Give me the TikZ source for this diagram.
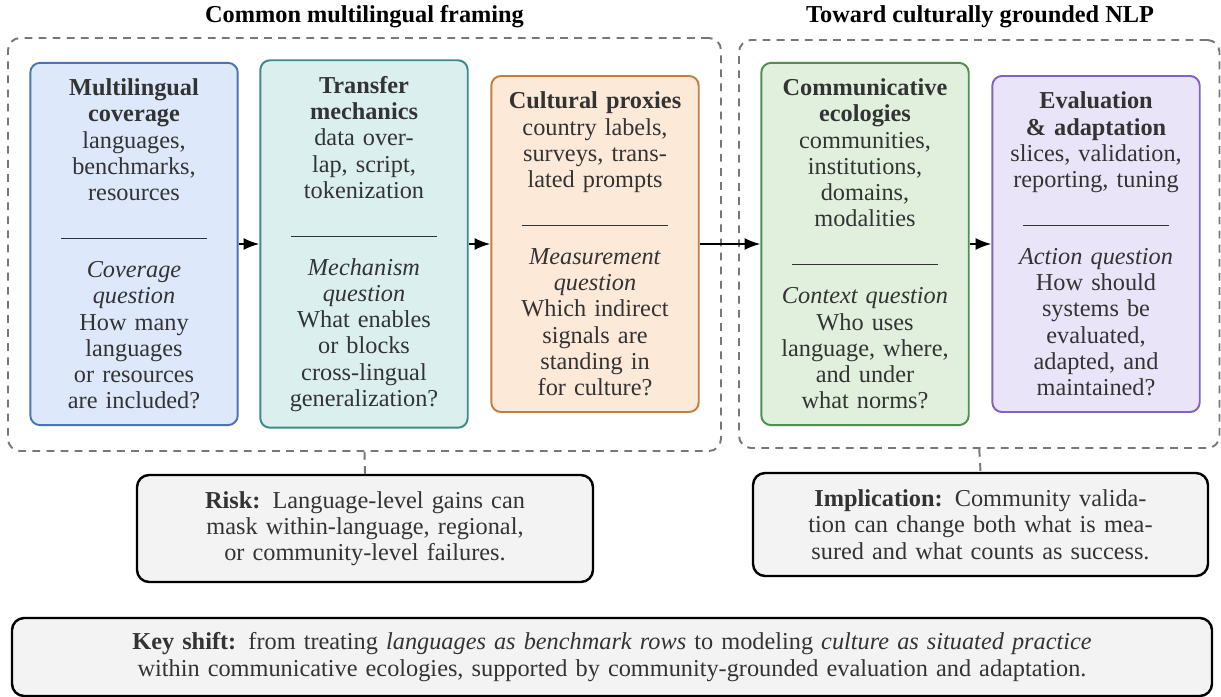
\documentclass[tikz,border=0pt]{standalone}
\usepackage{fontspec}
\setmainfont{Liberation Serif}
\usetikzlibrary{arrows.meta,fit}
\definecolor{bluefill}{HTML}{DDE8FB}
\definecolor{blueline}{HTML}{4A74BA}
\definecolor{tealfill}{HTML}{DBEFEF}
\definecolor{tealline}{HTML}{3E8A86}
\definecolor{orangefill}{HTML}{FCE9D8}
\definecolor{orangeline}{HTML}{C17F45}
\definecolor{greenfill}{HTML}{E0F0DD}
\definecolor{greenline}{HTML}{4F8F4F}
\definecolor{purplefill}{HTML}{EAE4F8}
\definecolor{purpleline}{HTML}{8163BF}
\definecolor{notefill}{HTML}{F3F3F3}
\definecolor{dashgray}{HTML}{777777}
\definecolor{textgray}{HTML}{333333}
\begin{document}
\begin{tikzpicture}[x=0.4115pt,y=-0.4115pt,
  stagebox/.style={draw, rounded corners=4pt, line width=0.8pt, align=center,
    text width=2.6cm, minimum width=3cm, inner xsep=4pt, inner ysep=6.6pt,
    font=\fontsize{10}{10.8}\selectfont, text=textgray},
  groupbox/.style={draw=dashgray, line width=0.8pt, dash pattern=on 3.2pt off 2.6pt,
    rounded corners=5pt, inner sep=0pt},
  titletext/.style={font=\fontsize{10}{10.8}\selectfont\bfseries, text=black},
  notebox/.style={draw=black, fill=notefill, line width=1pt, rounded corners=5pt,
    align=center, text width=#1, font=\fontsize{10}{10.8}\selectfont, text=textgray,
    inner sep=0pt},
  flow/.style={-{Latex[length=6.5pt,width=5pt]}, line width=0.8pt, black},
  dashlink/.style={draw=dashgray, line width=0.8pt, dash pattern=on 3.2pt off 2.6pt}
]
\useasboundingbox (0,0) rectangle (1221,697);

% titles
\node[titletext] (t1) at (364.5,17) {Common multilingual framing};
\node[titletext] (t2) at (980,17) {Toward culturally grounded NLP};

% stage boxes
\node[stagebox, fill=bluefill, draw=blueline] (b1) at (134,244)
 {\textbf{Multilingual}\\\textbf{coverage}\\languages,\\benchmarks,\\resources\\[5pt]
  \rule{2.1cm}{0.5pt}\\[5pt]
  \textit{Coverage}\\\textit{question}\\How many\\languages\\or resources\\are included?};
\node[stagebox, fill=tealfill, draw=tealline] (b2) at (364,244)
 {\textbf{Transfer}\\\textbf{mechanics}\\data over-\\lap, script,\\tokenization\\[5pt]
  \rule{2.1cm}{0.5pt}\\[5pt]
  \textit{Mechanism}\\\textit{question}\\What enables\\or blocks\\cross-lingual\\generalization?};
\node[stagebox, fill=orangefill, draw=orangeline] (b3) at (595,244)
 {\textbf{Cultural proxies}\\country labels,\\surveys, trans-\\lated prompts\\[5pt]
  \rule{2.1cm}{0.5pt}\\[5pt]
  \textit{Measurement}\\\textit{question}\\Which indirect\\signals are\\standing in\\for culture?};
\node[stagebox, fill=greenfill, draw=greenline] (b4) at (865,244)
 {\textbf{Communicative}\\\textbf{ecologies}\\communities,\\institutions,\\domains,\\modalities\\[5pt]
  \rule{2.1cm}{0.5pt}\\[5pt]
  \textit{Context question}\\Who uses\\language, where,\\and under\\what norms?};
\node[stagebox, fill=purplefill, draw=purpleline] (b5) at (1096,244)
 {\textbf{Evaluation}\\\textbf{\& adaptation}\\slices, validation,\\reporting, tuning\\[5pt]
  \rule{2.1cm}{0.5pt}\\[5pt]
  \textit{Action question}\\How should\\systems be\\evaluated,\\adapted, and\\maintained?};

% groups
\node[groupbox, fit={(8,38) (721,451)}] (g1) {};
\node[groupbox, fit={(739,40) (1219.5,448)}] (g2) {};

% flow arrows
\draw[flow] (b1.east) -- (b2.west);
\draw[flow] (b2.east) -- (b3.west);
\draw[flow] (b3.east) -- (b4.west);
\draw[flow] (b4.east) -- (b5.west);

% notes
\node[notebox=180pt, minimum width=456*0.4115pt, minimum height=107*0.4115pt] (risk) at (365,528.5)
 {\textbf{Risk:} Language-level gains can\\mask within-language, regional,\\or community-level failures.};
\node[notebox=180pt, minimum width=455*0.4115pt, minimum height=103*0.4115pt] (impl) at (980.5,524.5)
 {\textbf{Implication:} Community valida-\\tion can change both what is mea-\\sured and what counts as success.};
\node[notebox=480pt, minimum width=1200*0.4115pt, minimum height=78*0.4115pt] (key) at (612,657)
 {\textbf{Key shift:} from treating \textit{languages as benchmark rows} to modeling \textit{culture as situated practice}\\within communicative ecologies, supported by community-grounded evaluation and adaptation.};

% dashed links
\draw[dashlink] (g1.south) -- (risk.north);
\draw[dashlink] (g2.south) -- (impl.north);
\end{tikzpicture}
\end{document}
